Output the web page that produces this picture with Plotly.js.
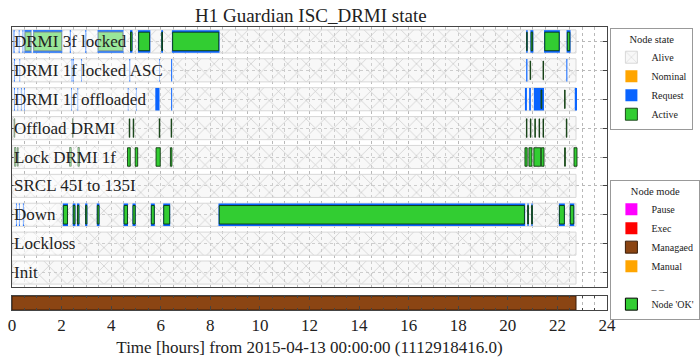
<!DOCTYPE html>
<html><head><meta charset="utf-8">
<script src="https://cdn.plot.ly/plotly-3.0.1.min.js"></script>
<style>html,body{margin:0;padding:0;background:#fff}#chart{width:700px;height:360px}</style>
</head><body><div id="chart"></div>
<script>
// ---- data (hours from 2015-04-13 00:00:00) ----
const rows = ['Init','Lockloss','Down','SRCL 45I to 135I','Lock DRMI 1f','Offload DRMI','DRMI 1f offloaded','DRMI 1f locked ASC','DRMI 3f locked'];

const aliveRow   = ['Init','Lockloss','Down','SRCL 45I to 135I','Lock DRMI 1f','Offload DRMI','DRMI 1f offloaded','DRMI 1f locked ASC','DRMI 3f locked'];
const aliveStart = [0,0,0,0,0,0,0,0,0];
const aliveEnd   = [22.75,22.75,22.75,22.75,22.75,22.75,22.75,22.75,22.75];

const requestRow = [
 'DRMI 3f locked','DRMI 3f locked','DRMI 3f locked','DRMI 3f locked','DRMI 3f locked','DRMI 3f locked','DRMI 3f locked','DRMI 3f locked',
 'DRMI 3f locked','DRMI 3f locked','DRMI 3f locked','DRMI 3f locked','DRMI 3f locked','DRMI 3f locked','DRMI 3f locked','DRMI 3f locked',
 'DRMI 1f locked ASC','DRMI 1f locked ASC','DRMI 1f locked ASC','DRMI 1f locked ASC','DRMI 1f locked ASC',
 'DRMI 1f locked ASC','DRMI 1f locked ASC','DRMI 1f locked ASC','DRMI 1f locked ASC','DRMI 1f locked ASC',
 'DRMI 1f offloaded','DRMI 1f offloaded','DRMI 1f offloaded','DRMI 1f offloaded','DRMI 1f offloaded','DRMI 1f offloaded','DRMI 1f offloaded',
 'DRMI 1f offloaded','DRMI 1f offloaded','DRMI 1f offloaded','DRMI 1f offloaded','DRMI 1f offloaded','DRMI 1f offloaded','DRMI 1f offloaded',
 'Down','Down','Down','Down','Down','Down','Down','Down','Down','Down','Down','Down','Down','Down','Down','Down','Down'
];
const requestStart = [
 0.06,0.27,0.42,0.50,0.85,2.33,2.95,3.45,4.76,5.08,6.02,6.45,20.74,20.91,21.46,22.37,
 0.08,0.30,2.40,2.47,2.79,4.73,5.94,6.42,20.74,22.36,
 0.08,0.22,0.36,0.49,2.38,2.64,4.67,5.00,5.78,6.42,20.69,20.86,21.05,22.70,
 0.16,0.28,0.44,2.05,2.45,2.62,2.95,3.42,4.50,4.86,5.60,6.10,8.33,20.79,20.95,22.06,22.50
];
const requestEnd = [
 0.11,0.31,0.46,0.79,2.03,2.38,3.00,4.50,4.86,5.58,6.09,8.37,20.80,21.03,22.10,22.53,
 0.12,0.33,2.44,2.50,2.82,4.77,5.97,6.46,20.79,22.40,
 0.12,0.25,0.39,0.52,2.41,2.67,4.70,5.03,5.95,6.46,20.77,20.93,21.46,22.79,
 0.20,0.32,0.48,2.26,2.56,2.72,3.04,3.53,4.68,4.99,5.76,6.38,20.70,20.84,21.00,22.30,22.68
];

const activeRow = [
 'DRMI 3f locked','DRMI 3f locked','DRMI 3f locked','DRMI 3f locked','DRMI 3f locked','DRMI 3f locked','DRMI 3f locked','DRMI 3f locked','DRMI 3f locked','DRMI 3f locked','DRMI 3f locked',
 'DRMI 1f locked ASC','DRMI 1f locked ASC',
 'DRMI 1f offloaded','DRMI 1f offloaded',
 'Offload DRMI','Offload DRMI','Offload DRMI','Offload DRMI','Offload DRMI','Offload DRMI','Offload DRMI','Offload DRMI','Offload DRMI','Offload DRMI','Offload DRMI','Offload DRMI',
 'Lock DRMI 1f','Lock DRMI 1f','Lock DRMI 1f','Lock DRMI 1f','Lock DRMI 1f','Lock DRMI 1f','Lock DRMI 1f','Lock DRMI 1f','Lock DRMI 1f','Lock DRMI 1f','Lock DRMI 1f','Lock DRMI 1f','Lock DRMI 1f','Lock DRMI 1f',
 'Down','Down','Down','Down','Down','Down','Down','Down','Down','Down','Down','Down','Down','Down'
];
const activeStart = [
 0.53,0.88,3.48,4.78,5.11,6.04,6.48,20.76,20.94,21.49,22.40,
 20.90,21.42,
 21.34,22.29,
 0.09,2.44,4.73,4.89,5.94,6.42,20.75,20.91,21.09,21.26,21.42,22.36,
 0.10,0.22,2.32,2.66,4.66,4.97,5.81,6.39,20.69,20.85,21.05,21.35,22.29,22.67,
 2.07,2.47,2.64,2.97,3.44,4.52,4.88,5.62,6.12,8.36,20.80,20.96,22.08,22.52
];
const activeEnd = [
 0.76,2.00,4.47,4.84,5.55,6.07,8.34,20.78,21.00,22.07,22.50,
 20.92,21.44,
 21.37,22.31,
 0.11,2.46,4.75,4.91,5.96,6.44,20.77,20.93,21.11,21.28,21.44,22.38,
 0.16,0.25,2.39,2.72,4.77,5.07,5.98,6.45,20.78,20.97,21.33,21.46,22.32,22.79,
 2.24,2.54,2.70,3.02,3.51,4.66,4.97,5.74,6.36,20.67,20.83,20.99,22.28,22.66
];

const modeRow   = ['mode'];
const modeStart = [0];
const modeEnd   = [22.75];

// legend-only entries carry no data (one empty point each)
const noData = [null];

const xTickVals = [0,2,4,6,8,10,12,14,16,18,20,22,24];
const xTitle = 'Time [hours] from 2015-04-13 00:00:00 (1112918416.0)';
const chartTitle = 'H1 Guardian ISC_DRMI state';

// ---- helpers ----
const dur = (s, e) => e.map((v, i) => v - s[i]);

const traces = [
 {type:'bar', orientation:'h', name:'Alive', y:aliveRow, base:aliveStart, x:dur(aliveStart, aliveEnd),
  width:0.8, xaxis:'x', yaxis:'y', legend:'legend',
  marker:{color:'#c9c9c9', line:{color:'#d8d8d8', width:1},
          pattern:{shape:'x', fillmode:'replace', fgcolor:'#c6c6c6', bgcolor:'rgba(238,238,238,0.4)', size:13, solidity:0.1}}},
 {type:'bar', orientation:'h', name:'Nominal', y:noData, x:noData, xaxis:'x', yaxis:'y', legend:'legend',
  marker:{color:'#ffa500'}},
 {type:'bar', orientation:'h', name:'Request', y:requestRow, base:requestStart, x:dur(requestStart, requestEnd),
  width:0.78, xaxis:'x', yaxis:'y', legend:'legend',
  marker:{color:'#0a64ff', line:{width:0}}},
 {type:'bar', orientation:'h', name:'Active', y:activeRow, base:activeStart, x:dur(activeStart, activeEnd),
  width:0.64, xaxis:'x', yaxis:'y', legend:'legend',
  marker:{color:'#32cd32', line:{color:'rgba(10,50,10,0.85)', width:1}}},
 {type:'bar', orientation:'h', name:'Pause', y:noData, x:noData, xaxis:'x', yaxis:'y2', legend:'legend2', marker:{color:'#ff00ff'}},
 {type:'bar', orientation:'h', name:'Exec', y:noData, x:noData, xaxis:'x', yaxis:'y2', legend:'legend2', marker:{color:'#ff0000'}},
 {type:'bar', orientation:'h', name:'Managaed', y:modeRow, base:modeStart, x:dur(modeStart, modeEnd),
  width:1, xaxis:'x', yaxis:'y2', legend:'legend2',
  marker:{color:'#8b4513', line:{color:'#3a1d08', width:1}}},
 {type:'bar', orientation:'h', name:'Manual', y:noData, x:noData, xaxis:'x', yaxis:'y2', legend:'legend2', marker:{color:'#ffa500'}},
 {type:'scatter', mode:'lines', name:'_ _', x:noData, y:noData, xaxis:'x', yaxis:'y2', legend:'legend2',
  line:{color:'rgba(0,0,0,0)'}},
 {type:'bar', orientation:'h', name:"Node 'OK'", y:noData, x:noData, xaxis:'x', yaxis:'y2', legend:'legend2',
  marker:{color:'#32cd32', line:{color:'#000', width:1}}}
];

const annotations = rows.map((r, i) => ({
  xref:'paper', yref:'y', x:0, y:i, xanchor:'left', yanchor:'middle', xshift:1,
  text:r, showarrow:false, font:{size:17, color:'#222'},
  bgcolor:'rgba(255,255,255,0.5)', borderpad:0
}));

const gridC = '#b8b8b8';
const legendBase = {xref:'container', yref:'container', xanchor:'left', yanchor:'top', bgcolor:'#fff',
  bordercolor:'#999', borderwidth:1, font:{size:10, color:'#222'}, tracegroupgap:0, itemwidth:30, traceorder:'normal'};

const layout = {
  width:700, height:360,
  margin:{l:12, r:93, t:27, b:50, autoexpand:false},
  paper_bgcolor:'#fff', plot_bgcolor:'#fff',
  font:{family:'Liberation Serif, serif', color:'#222', size:17},
  title:{text:chartTitle, x:0.444, xanchor:'center', y:0.958, yanchor:'middle', font:{size:19, color:'#222'}},
  barmode:'overlay', hovermode:false, showlegend:true,
  xaxis:{range:[0,24], anchor:'y2', tickvals:xTickVals, ticks:'inside', ticklen:4, tickcolor:'#444',
    showgrid:true, gridcolor:gridC, griddash:'dot', gridwidth:1,
    minor:{dtick:0.5, tick0:0, showgrid:true, gridcolor:gridC, griddash:'dot', ticks:'inside', ticklen:2, tickcolor:'#444'},
    showline:true, mirror:'all', linecolor:'#444', linewidth:1, zeroline:false,
    tickfont:{size:17}, title:{text:xTitle, font:{size:17}, standoff:6}},
  yaxis:{domain:[0.0813,1], anchor:'x', type:'category', categoryarray:rows, categoryorder:'array', range:[-0.5,8.5],
    showticklabels:false, ticks:'inside', ticklen:4, tickcolor:'#444',
    showgrid:true, gridcolor:gridC, griddash:'dot', gridwidth:1,
    showline:true, mirror:'ticks', linecolor:'#444', linewidth:1, zeroline:false},
  yaxis2:{domain:[0,0.0495], anchor:'x', type:'category', range:[-0.5,0.5], showticklabels:false, ticks:'',
    showgrid:false, showline:true, mirror:true, linecolor:'#444', linewidth:1, zeroline:false},
  legend:Object.assign({}, legendBase, {x:0.872, y:0.922,
    title:{text:'Node state', side:'top center', font:{size:10.5}}}),
  legend2:Object.assign({}, legendBase, {x:0.872, y:0.5,
    title:{text:'Node mode', side:'top center', font:{size:10.5}}}),
  annotations:annotations
};

Plotly.newPlot('chart', traces, layout, {staticPlot:true, displayModeBar:false});
</script>
</body></html>
